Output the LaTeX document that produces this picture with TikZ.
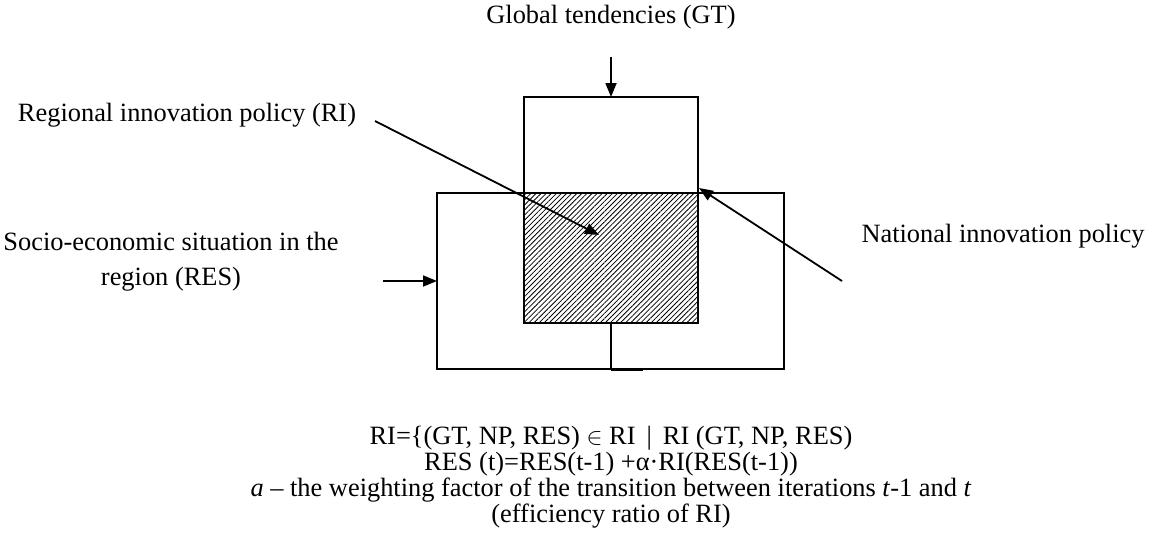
\documentclass[tikz,border=0pt]{standalone}
\usepackage{fontspec}
\setmainfont{Liberation Serif}
\usetikzlibrary{arrows.meta,positioning,calc,patterns.meta}
\tikzset{
  block box/.style={draw=black,line width=0.9pt,inner sep=0pt,outer sep=0pt},
  hatch box/.style={block box,pattern={Lines[angle=45,distance=1.8pt,line width=0.4pt]}},
  label text/.style={font=\fontsize{13.2}{17.5}\selectfont,align=center,inner sep=0pt},
  formula text/.style={font=\fontsize{13.2}{13}\selectfont,align=center,inner sep=0pt},
  input arrow/.style={-{Triangle[length=7pt,width=5.5pt]},line width=0.9pt,draw=black}
}
\begin{document}
\begin{tikzpicture}[x=0.5pt,y=-0.5pt]
        \useasboundingbox (0,0) rectangle (1159,536);
        % boxes
        \node[block box,minimum width=87pt,minimum height=48pt] (gtbox) at (611,145) {};
        \node[block box,minimum width=173.5pt,minimum height=88pt] (resbox) at (610.5,281) {};
        \node[hatch box,minimum width=87pt,minimum height=65pt] (ribox) at (611,258) {};
        \draw[block box] (ribox.south) -- (ribox.south |- resbox.south);
        \draw[line width=1.1pt] ($(ribox.south |- resbox.south)+(0,0.6)$) -- ++(32,0);
        % labels
        \node[label text] (gt) at (611,17) {Global tendencies (GT)};
        \node[label text] (ri) at (187,115) {Regional innovation policy (RI)};
        \node[label text] (res) at (171,262) {Socio-economic situation in the\\region (RES)};
        \node[label text] (np) at (1003,236) {National innovation policy};
        \node[formula text] (formula) at (611,477) {RI=\{(GT, NP, RES) $\in$ RI \,|\, RI (GT, NP, RES)\\
          RES (t)=RES(t-1) +α·RI(RES(t-1))\\
          \textit{a} – the weighting factor of the transition between iterations \textit{t}-1 and \textit{t}\\
          (efficiency ratio of RI)};
        % arrows
        \coordinate (gtstart) at (611,57);
        \coordinate (ristart) at (375,121);
        \coordinate (riend) at (599,235);
        \coordinate (resstart) at (383,281);
        \coordinate (npstart) at (842,281);
        \coordinate (npend) at (699,188);
        \draw[input arrow] (gtstart) -- (gtbox.north);
        \draw[input arrow] (ristart) -- (riend);
        \draw[input arrow] (resstart) -- (resbox.west);
        \draw[input arrow] (npstart) -- (npend);
      \end{tikzpicture}
\end{document}
